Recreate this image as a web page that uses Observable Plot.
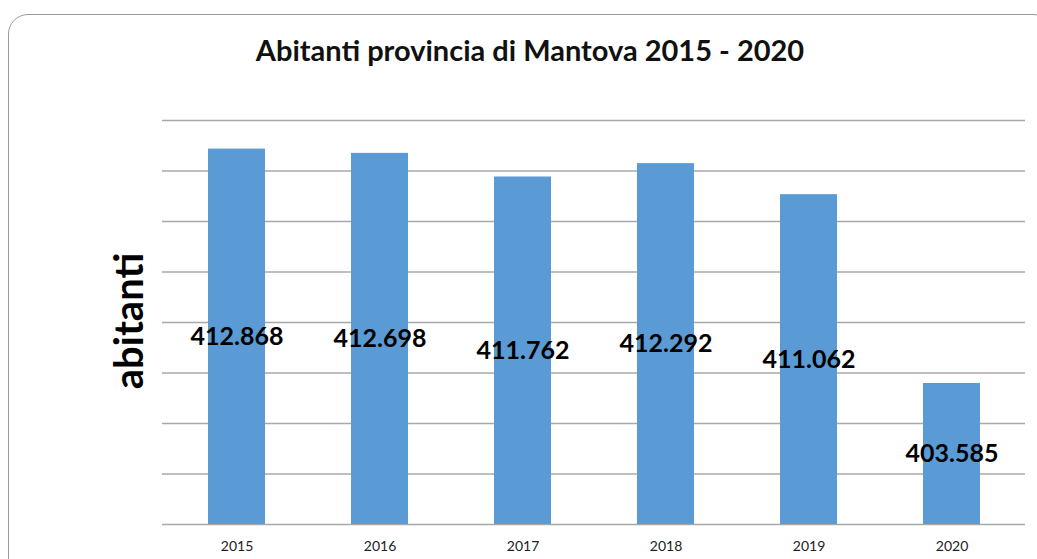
<!DOCTYPE html>
<html><head><meta charset="utf-8">
<script src="https://cdn.jsdelivr.net/npm/d3@7"></script>
<script src="https://cdn.jsdelivr.net/npm/@observablehq/plot@0.6"></script>
<style>
body{margin:0;background:#fff;font-family:Lato,"Open Sans",sans-serif;}
#wrap{position:relative;width:1037px;height:559px;overflow:hidden;}
#frame{position:absolute;left:8px;top:14px;width:1045px;height:580px;border:1.5px solid #9a9a9a;border-radius:20px;box-sizing:border-box;}
#title{position:absolute;left:0;width:1060px;top:32px;text-align:center;font-weight:700;font-size:29px;color:#111;}
#ylab{position:absolute;left:128px;top:321px;transform:translate(-50%,-50%) rotate(-90deg);font-weight:700;font-size:40px;color:#000;white-space:nowrap;line-height:1;}
#chart{position:absolute;left:0;top:0;}
</style></head>
<body><div id="wrap"><div id="frame"></div><div id="chart"></div>
<div id="title">Abitanti provincia di Mantova 2015 - 2020</div>
<div id="ylab">abitanti</div></div>
<script>
const years = ["2015","2016","2017","2018","2019","2020"];
const abitanti = [412868, 412698, 411762, 412292, 411062, 403585];
const labels = ["412.868","412.698","411.762","412.292","411.062","403.585"];
const gridTicks = [398000,400000,402000,404000,406000,408000,410000,412000,414000];
const base = 398000;

const data = years.map((y,i)=>({year:y, value:abitanti[i], label:labels[i], mid:(base+abitanti[i])/2}));

const chart = Plot.plot({
  width:1037, height:559,
  marginLeft:162, marginRight:12, marginTop:120, marginBottom:35,
  style:{background:"transparent", fontFamily:"Lato, 'Open Sans', sans-serif"},
  x:{domain:years, paddingInner:0.604, paddingOuter:0.302, label:null},
  y:{domain:[398000,414000], axis:null},
  marks:[
    Plot.ruleY(gridTicks,{stroke:"#a8a8a8", strokeWidth:1.3}),
    Plot.barY(data,{x:"year", y1:base, y2:"value", fill:"#5B9BD5"}),
    Plot.text(data,{x:"year", y:"mid", text:"label", fontSize:25, fontWeight:700, fill:"#000"}),
    Plot.axisX({tickSize:0, tickPadding:17, fontSize:14, color:"#222", label:null})
  ]
});
document.getElementById("chart").appendChild(chart);
</script></body></html>
